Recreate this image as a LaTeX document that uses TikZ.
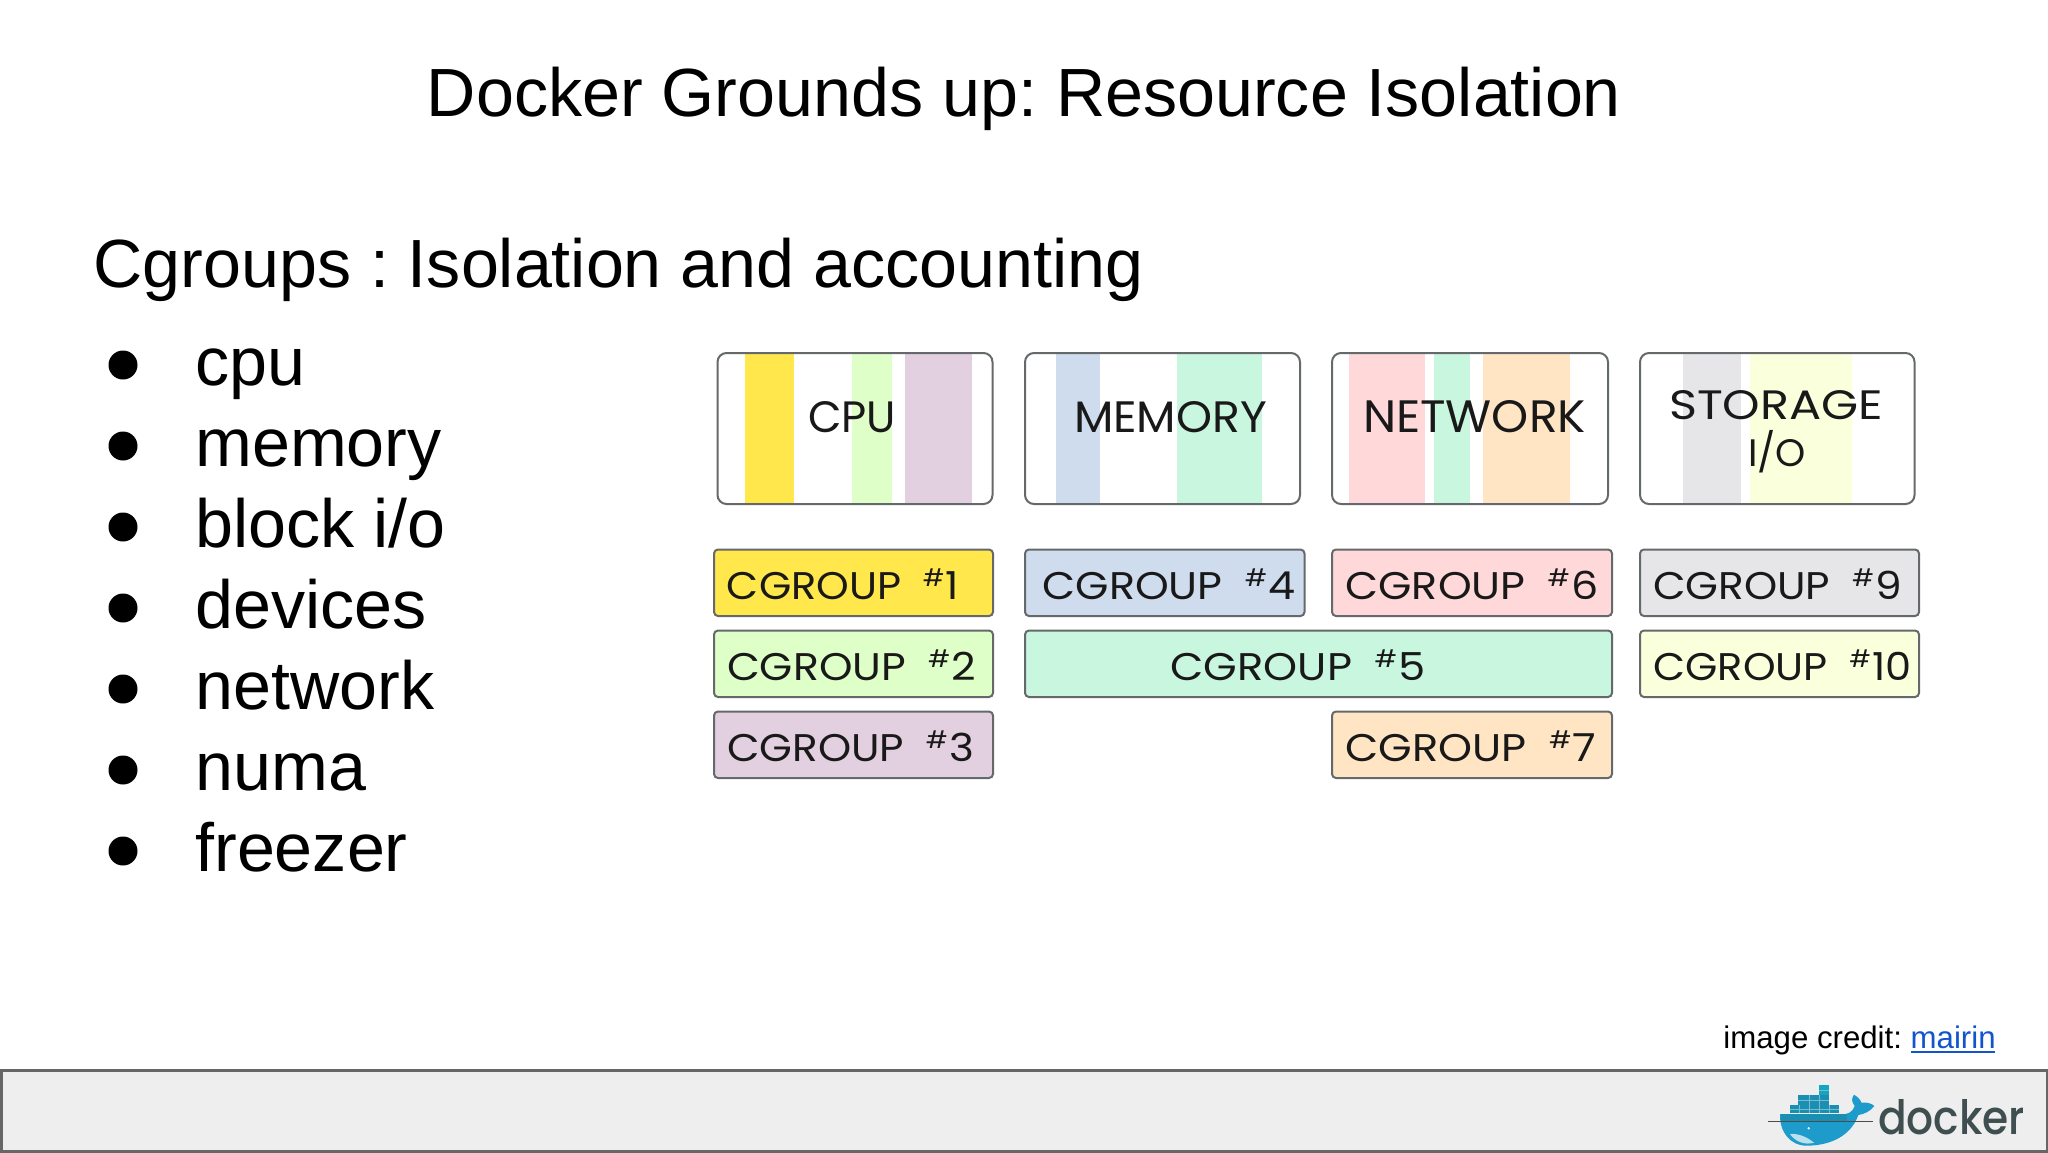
\documentclass[tikz,border=0pt]{standalone}
\usepackage{fontspec}
\usepackage{graphicx}
\setmainfont{Liberation Sans}
\newfontfamily\handfont{Poppins}
\newfontfamily\logofont{Poppins Medium}
\definecolor{edge}{HTML}{66696B}
\definecolor{cA}{HTML}{FFE74C}
\definecolor{cB}{HTML}{DFFFC8}
\definecolor{cC}{HTML}{E2CFE0}
\definecolor{cD}{HTML}{CEDCEE}
\definecolor{cE}{HTML}{C8F6DF}
\definecolor{cF}{HTML}{FFD8DA}
\definecolor{cG}{HTML}{FFE5C4}
\definecolor{cH}{HTML}{E6E6E8}
\definecolor{cI}{HTML}{FAFFDC}
\definecolor{linkblue}{HTML}{1155CC}
\definecolor{barfill}{HTML}{EEEEEF}
\definecolor{barline}{HTML}{666666}
\definecolor{whaleblue}{HTML}{1D9BCB}
\definecolor{boxblue}{HTML}{1B8FB2}
\definecolor{logotext}{HTML}{3F4F50}
\newcommand{\handh}[3]{\resizebox{\dimexpr #1pt/2\relax}{\dimexpr #2pt/2\relax}{\handfont #3}}
\newcommand{\hand}[2]{\handh{#1}{30}{#2}}
\newcommand{\cgtext}[1]{CGROUP \hspace{.25em}\raisebox{.32em}{\scalebox{.62}{\#}}\hspace{.03em}#1}
\tikzset{
  hw/.style={inner sep=0pt,text=black!90},
  bigbox/.style={draw=edge,line width=1pt,rounded corners=4.5pt},
  cgbox/.style={draw=edge,line width=1pt,rounded corners=2pt},
  slide/.style={inner sep=0pt,anchor=base west,font=\fontsize{34.1}{34}\selectfont},
}
\newcommand{\cgroup}[9]{%
  \path[cgbox,fill=#6] (#2,#3) rectangle (#4,#5);
  \node[hw] (#1) at (#7,#3/2+#5/2+1.5) {\hand{#8}{\cgtext{#9}}};}
\frenchspacing
\begin{document}
\begin{tikzpicture}[x=0.5pt,y=-0.5pt]
\useasboundingbox (0,0) rectangle (2048,1152);
\fill[white] (0,0) rectangle (2048,1152);
% title and text
\node[inner sep=0pt,anchor=base,font=\fontsize{34.1}{34}\selectfont] (title) at (1024,116) {Docker Grounds up: Resource Isolation};
\node[slide] (sub) at (93,287) {Cgroups : Isolation and accounting};
\foreach \nm/\lbl [count=\i from 0] in {a/cpu,b/memory,c/block i\slash o,d/devices,e/network,f/numa,g/freezer}{
  \node[slide] (t\nm) at (195,385.5+81*\i) {\lbl};
  \node[circle,fill=black,inner sep=0pt,minimum size=14.5pt] (b\nm) at (123,365+81*\i) {};
}
% resource boxes
\fill[white] (717,353) rectangle (993,504);
\fill[cA] (745,353) rectangle (794,504);
\fill[cB] (852,353) rectangle (892,504);
\fill[cC] (905,353) rectangle (972,504);
\path[bigbox] (717.5,353) rectangle (992.5,504);
\node[hw] (cpu) at (852,417) {\handh{88}{31}{CPU}};
\fill[cD] (1056,353) rectangle (1100,504);
\fill[cE] (1177,353) rectangle (1262,504);
\path[bigbox] (1025,353) rectangle (1300,504);
\node[hw] (mem) at (1170.5,417) {\handh{193}{31}{MEMORY}};
\fill[cF] (1349,353) rectangle (1425,504);
\fill[cE] (1434,353) rectangle (1470,504);
\fill[cG] (1483,353) rectangle (1570,504);
\path[bigbox] (1332,353) rectangle (1608,504);
\node[hw] (net) at (1474.5,416.5) {\handh{223}{32}{NETWORK}};
\fill[cH] (1683,353) rectangle (1741,504);
\fill[cI] (1750,353) rectangle (1852,504);
\path[bigbox] (1640,353) rectangle (1914.5,504);
\node[hw] (sto) at (1776,405) {\handh{214}{29}{STORAGE}};
\node[hw] (io) at (1777,453) {\handh{58}{27}{I\smash{/}O}};
% cgroups
\cgroup{c1}{714}{549.5}{993}{616}{cA}{843}{232}{1}
\cgroup{c2}{714}{630.5}{993}{697}{cB}{851.5}{249}{2}
\cgroup{c3}{714}{711.5}{993}{778}{cC}{850.5}{247}{3}
\cgroup{c4}{1025}{549.5}{1304.5}{616}{cD}{1169}{253}{4}
\cgroup{c5}{1025}{630.5}{1612}{697}{cE}{1298}{255}{5}
\cgroup{c6}{1332}{549.5}{1612}{616}{cF}{1472}{253}{6}
\cgroup{c7}{1332}{711.5}{1612}{778}{cG}{1471}{251}{7}
\cgroup{c9}{1640}{549.5}{1919}{616}{cH}{1777.5}{249}{9}
\cgroup{c10}{1640}{630.5}{1919}{697}{cI}{1782.5}{258}{10}
% credit
\node[inner sep=0pt,anchor=base west,font=\fontsize{15.6}{16}\selectfont] (credit) at (1723,1048) {image credit: \textcolor{linkblue}{mairin}};
\draw[linkblue,line width=0.7pt] (1911,1052) -- (1995,1052);
% footer
\path[fill=barfill,draw=barline,line width=1.5pt] (1,1070) rectangle (2047,1151);
% logo
\begin{scope}[x=0.16667pt,y=-0.16667pt,xshift=845pt,yshift=-500pt]
 \fill[whaleblue] (270,342) -- (450,342) .. controls (472,346) and (488,336) .. (494,318)
   .. controls (484,305) and (484,295) .. (492,284) .. controls (505,292) and (512,300) .. (514,308)
   .. controls (530,306) and (545,310) .. (553,318) .. controls (540,335) and (522,342) .. (505,345)
   .. controls (480,415) and (410,437) .. (350,437) .. controls (300,437) and (268,395) .. (270,342) -- cycle;
 \fill[boxblue] (272,343) rectangle (470,365);
 \fill[white!70!whaleblue] (300,402) .. controls (325,400) and (350,410) .. (372,428) .. controls (345,436) and (315,425) .. (300,402) -- cycle;
 \fill[white] (356,385) circle (4);
 \draw[black!70,line width=0.5pt] (235,365) -- (550,365);
 \fill[boxblue] (300,315) rectangle (446,340);
 \fill[boxblue] (325,285) rectangle (416,315);
 \fill[boxblue!80!cyan] (388,255) rectangle (416,285);
 \draw[white!40!boxblue,line width=0.3pt] (300,327) -- (446,327) (325,300) -- (416,300) (388,270) -- (416,270);
 \foreach \x in {329,358,388,417}{\draw[white!40!boxblue,line width=0.3pt] (\x,315) -- (\x,340);}
 \foreach \x in {358,388}{\draw[white!40!boxblue,line width=0.3pt] (\x,285) -- (\x,315);}
\end{scope}
\node[inner sep=0pt,text=logotext] (dockerword) at (1951.5,1117.5) {\resizebox{73.5pt}{17.5pt}{\logofont docker}};
\end{tikzpicture}
\end{document}
